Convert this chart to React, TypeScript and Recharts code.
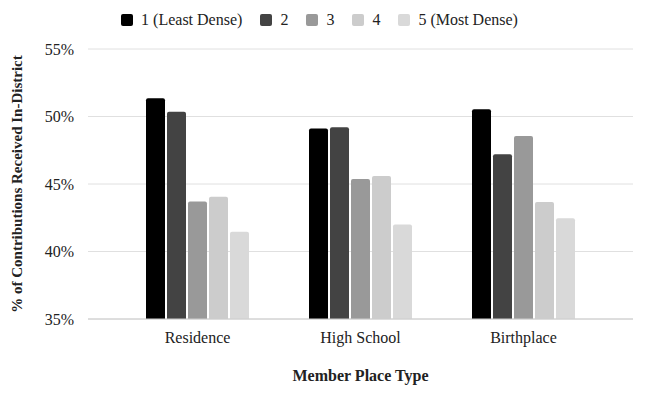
import { BarChart, Bar, XAxis, YAxis, CartesianGrid, Legend } from 'recharts';

const categories = ['Residence', 'High School', 'Birthplace'];
const density1 = [51.35, 49.12, 50.53];
const density2 = [50.36, 49.2, 47.2];
const density3 = [43.7, 45.37, 48.56];
const density4 = [44.06, 45.6, 43.66];
const density5 = [41.47, 42.0, 42.46];
const yTicks = [35, 40, 45, 50, 55];

const seriesNames = ['1 (Least Dense)', '2', '3', '4', '5 (Most Dense)'];
const seriesColors = ['#000000', '#434343', '#999999', '#cccccc', '#d9d9d9'];
const seriesValues = [density1, density2, density3, density4, density5];

const data = categories.map((name, i) => {
  const row: Record<string, string | number> = { name };
  seriesValues.forEach((vals, s) => {
    row[`d${s + 1}`] = vals[i];
  });
  return row;
});

const FONT = '"Liberation Serif", "Times New Roman", serif';

const LegendContent = () => (
  <div style={{ display: 'flex', justifyContent: 'center', fontFamily: FONT, fontSize: 16, lineHeight: '20px', color: '#222', paddingLeft: 6 }}>
    {seriesNames.map((n, i) => (
      <div key={n} style={{ display: 'flex', alignItems: 'center', marginRight: i < seriesNames.length - 1 ? 18 : 0 }}>
        <span
          style={{
            display: 'inline-block',
            width: 12,
            height: 12,
            borderRadius: 2,
            background: seriesColors[i],
            marginRight: 8,
          }}
        />
        <span>{n}</span>
      </div>
    ))}
  </div>
);

export default function App() {
  return (
    <div style={{ position: 'fixed', left: 0, top: 0, width: 645, height: 396, background: '#fff' }}>
      <BarChart
        width={645}
        height={396}
        data={data}
        margin={{ top: 29, right: 12, bottom: 0, left: 0 }}
        barCategoryGap={30}
        barGap={2}
      >
        <CartesianGrid vertical={false} stroke="#e0e0e0" />
        <Legend
          verticalAlign="top"
          align="center"
          content={<LegendContent />}
          wrapperStyle={{ top: 10, height: 20 }}
        />
        <XAxis
          dataKey="name"
          padding={{ left: 28, right: 28 }}
          tickLine={false}
          axisLine={{ stroke: '#cccccc' }}
          tick={{ fontFamily: FONT, fontSize: 16, fill: '#222' }}
          tickMargin={7}
          label={{
            value: 'Member Place Type',
            position: 'insideBottom',
            offset: 15,
            style: { fontFamily: FONT, fontSize: 16, fontWeight: 'bold', fill: '#222' },
          }}
          height={77}
        />
        <YAxis
          domain={[35, 55]}
          ticks={yTicks}
          width={88}
          axisLine={false}
          tickLine={false}
          tickFormatter={(v: number) => `${v}%`}
          tick={{ fontFamily: FONT, fontSize: 16, fill: '#222' }}
          tickMargin={8}
          label={{
            value: '% of Contributions Received In-District',
            angle: -90,
            position: 'insideLeft',
            offset: 17,
            style: { textAnchor: 'middle', fontFamily: FONT, fontSize: 15, fontWeight: 'bold', fill: '#222' },
          }}
        />
        {seriesNames.map((n, i) => (
          <Bar
            key={n}
            dataKey={`d${i + 1}`}
            name={n}
            fill={seriesColors[i]}
            radius={[2, 2, 0, 0]}
            isAnimationActive={false}
          />
        ))}
      </BarChart>
    </div>
  );
}
